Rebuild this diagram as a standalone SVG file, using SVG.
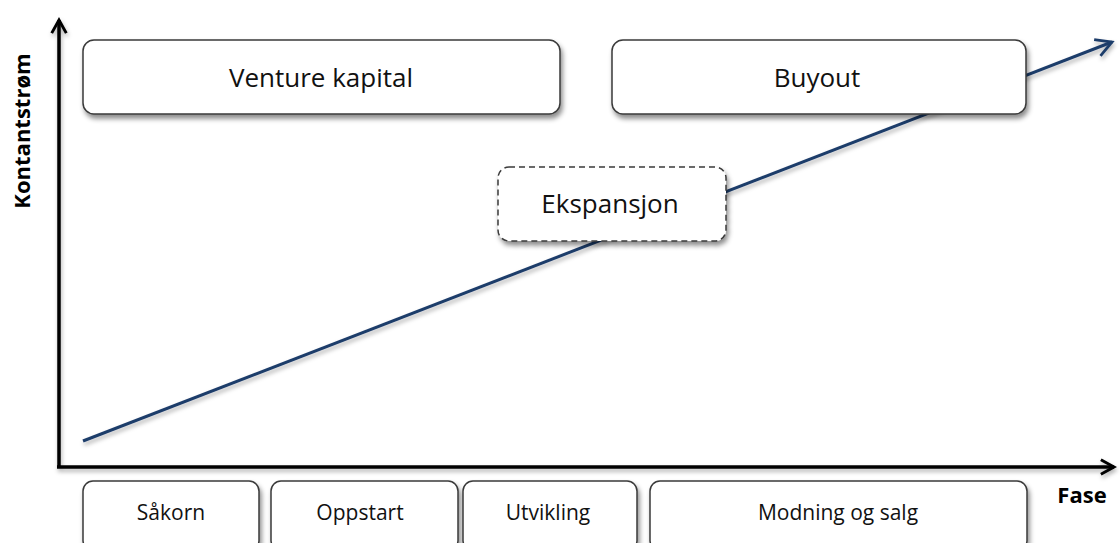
<svg xmlns="http://www.w3.org/2000/svg" width="1120" height="543" viewBox="0 0 1120 543">
  <defs>
    <filter id="shadow" x="-10%" y="-20%" width="120%" height="150%">
      <feDropShadow dx="2" dy="4" stdDeviation="2.5" flood-color="#000" flood-opacity="0.45"/>
    </filter>
    <filter id="lineShadow" filterUnits="userSpaceOnUse" x="0" y="0" width="1120" height="543">
      <feDropShadow dx="1" dy="3" stdDeviation="2" flood-color="#000" flood-opacity="0.3"/>
    </filter>
    <marker id="axisHead" viewBox="0 0 12 12" refX="10" refY="6" markerWidth="5" markerHeight="5" orient="auto" markerUnits="strokeWidth">
      <path d="M1,1 L10,6 L1,11" fill="none" stroke="#000" stroke-width="2"/>
    </marker>
    <marker id="trendHead" viewBox="0 0 12 12" refX="10" refY="6" markerWidth="7" markerHeight="7" orient="auto" markerUnits="strokeWidth">
      <path d="M1,1 L10,6 L1,11" fill="none" stroke="#1f3d6b" stroke-width="1.6"/>
    </marker>
    <style>
      .box { fill: #fff; stroke: #3a3a3a; stroke-width: 1.5; filter: url(#shadow); }
      .dashed { stroke-dasharray: 6 4; }
      .label { font-family: "Open Sans", "Liberation Sans", sans-serif; fill: #111; text-anchor: middle; dominant-baseline: central; }
      .big { font-size: 26px; }
      .small { font-size: 21px; }
      .axisLabel { font-family: "Open Sans", "Liberation Sans", sans-serif; font-weight: bold; font-size: 22px; fill: #000; }
      .axis { stroke: #000; stroke-width: 3.5; fill: none; }
      .trend { stroke: #1f3d6b; stroke-width: 3; fill: none; }
    </style>
  </defs>

  <rect width="1120" height="543" fill="#fff"/>

  <!-- trend line and axes, drawn beneath the boxes -->
  <g id="connectors" filter="url(#lineShadow)">
    <line class="trend" x1="83" y1="441" x2="1112" y2="42" marker-end="url(#trendHead)"/>
    <path class="axis" d="M59,468 L59,20" marker-end="url(#axisHead)"/>
    <path class="axis" d="M57,467 L1114,467" marker-end="url(#axisHead)"/>
  </g>

  <g id="venture">
    <rect class="box" x="83" y="40" width="477" height="74" rx="11"/>
    <text class="label big" x="321" y="77">Venture kapital</text>
  </g>

  <g id="buyout">
    <rect class="box" x="612" y="40" width="414" height="74" rx="11"/>
    <text class="label big" x="817" y="77">Buyout</text>
  </g>

  <g id="ekspansjon">
    <rect class="box dashed" x="498" y="167" width="228" height="74" rx="11"/>
    <text class="label big" x="610" y="203">Ekspansjon</text>
  </g>

  <g id="sakorn">
    <rect class="box" x="83" y="481" width="176" height="70" rx="10"/>
    <text class="label small" x="171" y="512">Såkorn</text>
  </g>

  <g id="oppstart">
    <rect class="box" x="271" y="481" width="187" height="70" rx="10"/>
    <text class="label small" x="360" y="512">Oppstart</text>
  </g>

  <g id="utvikling">
    <rect class="box" x="463" y="481" width="174" height="70" rx="10"/>
    <text class="label small" x="548" y="512">Utvikling</text>
  </g>

  <g id="modning">
    <rect class="box" x="650" y="481" width="377" height="70" rx="10"/>
    <text class="label small" x="838" y="512">Modning og salg</text>
  </g>

  <text class="axisLabel" x="0" y="0" transform="translate(30,131) rotate(-90)" text-anchor="middle">Kontantstrøm</text>
  <text class="axisLabel" x="1082" y="503" text-anchor="middle">Fase</text>
</svg>
